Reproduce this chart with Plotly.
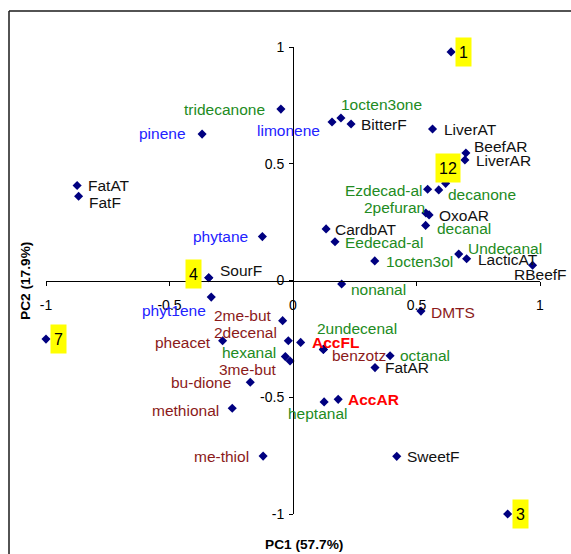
import plotly.graph_objects as go

# ---- data (PC1, PC2 loadings/scores) ----
names = ["tridecanone", "pinene", "limonene", "1octen3one", "BitterF", "LiverAT",
         "BeefAR", "LiverAR", "FatAT", "FatF", "Ezdecad-al", "decanone", "2pefuran",
         "OxoAR", "decanal", "CardbAT", "Eedecad-al", "1octen3ol", "Undecanal",
         "LacticAT", "RBeefF", "nonanal", "DMTS", "2undecenal", "AccFL", "benzotz",
         "2me-but", "2decenal", "pheacet", "hexanal", "3me-but", "bu-dione",
         "methional", "me-thiol", "octanal", "FatAR", "heptanal", "AccAR", "SweetF",
         "phytane", "phyt1ene", "SourF"]
pc1 = [-0.049, -0.368, 0.158, 0.194, 0.235, 0.565,
       0.700, 0.696, -0.874, -0.868, 0.545, 0.590, 0.538,
       0.551, 0.537, 0.134, 0.170, 0.331, 0.671,
       0.703, 0.970, 0.197, 0.518, 0.123, 0.031, 0.123,
       -0.042, -0.019, -0.285, -0.031, -0.012, -0.173,
       -0.246, -0.121, 0.393, 0.332, 0.126, 0.183, 0.420,
       -0.124, -0.331, -0.341]
pc2 = [0.734, 0.627, 0.679, 0.696, 0.670, 0.649,
       0.546, 0.516, 0.407, 0.361, 0.391, 0.388, 0.289,
       0.281, 0.236, 0.221, 0.166, 0.084, 0.113,
       0.093, 0.065, -0.015, -0.131, -0.295, -0.265, -0.295,
       -0.172, -0.258, -0.258, -0.326, -0.345, -0.436,
       -0.547, -0.752, -0.322, -0.373, -0.520, -0.509, -0.753,
       0.188, -0.071, 0.012]
groups = ["vol", "terp", "terp", "vol", "sens", "sens",
          "sens", "sens", "sens", "sens", "vol", "vol", "vol",
          "sens", "vol", "sens", "vol", "vol", "vol",
          "sens", "sens", "vol", "sulf", "vol", "acc", "sulf",
          "sulf", "sulf", "sulf", "vol", "sulf", "sulf",
          "sulf", "sulf", "vol", "sens", "vol", "acc", "sens",
          "terp", "terp", "sens"]

sample_ids = ["1", "3", "4", "7", "10", "12", "13"]
sample_pc1 = [0.640, 0.869, -0.341, -1.000, 1.001, 0.618, -0.186]
sample_pc2 = [0.979, -1.000, 0.012, -0.251, 0.236, 0.416, 1.002]

x_ticks = [-1, -0.5, 0, 0.5, 1]
y_ticks = [-1, -0.5, 0, 0.5, 1]
x_title = "PC1 (57.7%)"
y_title = "PC2 (17.9%)"

# ---- styles ----
FONT = "Arial, Liberation Sans, sans-serif"
group_color = {"vol": "#228B22", "terp": "#2222FF", "sens": "#111111",
               "sulf": "#8B1A1A", "acc": "#FF0000"}

# label placement: (anchor, dx px, dy px (down positive))
label_pos = {
    "tridecanone": ("r", -14, 0), "pinene": ("r", -14, -1), "limonene": ("r", -10, 9),
    "1octen3one": ("c", 41, -13), "BitterF": ("l", 8, 0), "LiverAT": ("l", 9, 1),
    "BeefAR": ("l", 6, -7), "LiverAR": ("l", 9, 0), "FatAT": ("l", 9, 0),
    "FatF": ("l", 8, 6), "Ezdecad-al": ("r", -3, 1), "decanone": ("l", 7, 5),
    "2pefuran": ("r", 1, -6), "OxoAR": ("l", 8, 1), "decanal": ("l", 9, 3),
    "CardbAT": ("l", 7, 1), "Eedecad-al": ("l", 8, 1), "1octen3ol": ("l", 9, 1),
    "Undecanal": ("l", 7, -6), "LacticAT": ("l", 9, 1), "RBeefF": ("c", 8, 9),
    "nonanal": ("l", 7, 5), "DMTS": ("l", 8, 1), "2undecenal": ("c", 34, -21),
    "AccFL": ("l", 9, 0), "benzotz": ("l", 7, 6), "2me-but": ("r", -9, -5),
    "2decenal": ("r", -9, -8), "pheacet": ("r", -10, 2), "hexanal": ("r", -7, -4),
    "3me-but": ("r", -11, 8), "bu-dione": ("r", -17, 0), "methional": ("r", -11, 2),
    "me-thiol": ("r", -12, 0), "octanal": ("l", 8, 0), "FatAR": ("l", 8, 0),
    "heptanal": ("c", -7, 12), "AccAR": ("l", 8, 0), "SweetF": ("l", 8, 0),
    "phytane": ("r", -12, 0), "phyt1ene": ("c", -37, 13), "SourF": ("l", 9, -7),
}
sample_pos = {"1": (12, 0), "3": (13, 0), "4": (-15, -4), "7": (12, 0),
              "10": (16, 0), "12": (2, -15), "13": (0, 0)}

# body margin is removed by a post script, so page pixels == figure pixels
W, H = 571, 554
PX_L, PX_R, PX_T, PX_B = 46, 540, 47, 514  # plot area in page pixels
ML, MT = PX_L, PX_T
MR, MB = W - PX_R, H - PX_B
pw, ph = W - ML - MR, H - MT - MB


def paper_x(px):
    return (px - PX_L) / pw


def paper_y(py):
    return (PX_B - py) / ph


fig = go.Figure()
fig.add_trace(go.Scatter(
    x=pc1 + sample_pc1, y=pc2 + sample_pc2, mode="markers",
    marker=dict(symbol="diamond", size=7, color="#000080"),
    cliponaxis=False, hoverinfo="skip", showlegend=False))

anns = []
anchor_map = {"l": "left", "r": "right", "c": "center"}
for n, xv, yv, g in zip(names, pc1, pc2, groups):
    a, dx, dy = label_pos[n]
    bold = g == "acc"
    anns.append(dict(
        x=xv, y=yv, xref="x", yref="y", showarrow=False,
        text=f"<b>{n}</b>" if bold else n,
        xanchor=anchor_map[a], yanchor="middle", xshift=dx, yshift=-dy,
        font=dict(family=FONT, size=15.5, color=group_color[g])))
for s, xv, yv in zip(sample_ids, sample_pc1, sample_pc2):
    dx, dy = sample_pos[s]
    anns.append(dict(
        x=xv, y=yv, xref="x", yref="y", showarrow=False, text=s,
        xanchor="center", yanchor="middle", xshift=dx, yshift=-dy,
        bgcolor="#FFFF00", borderpad=3, height=22,
        font=dict(family=FONT, size=16, color="#000000")))

# axis titles
anns.append(dict(x=paper_x(304), y=paper_y(544), xref="paper", yref="paper",
                 showarrow=False, text=f"<b>{x_title}</b>",
                 xanchor="center", yanchor="middle",
                 font=dict(family=FONT, size=13.7, color="#000000")))
anns.append(dict(x=paper_x(25), y=paper_y(281), xref="paper", yref="paper",
                 showarrow=False, text=f"<b>{y_title}</b>", textangle=-90,
                 xanchor="center", yanchor="middle",
                 font=dict(family=FONT, size=13.7, color="#000000")))

# outer chart-area frame (only its top and left edges are inside the picture)
frame_line = dict(color="#1a1a1a", width=1.5)
frame = [
    dict(type="line", xref="paper", yref="paper", x0=paper_x(9), x1=paper_x(W + 5),
         y0=paper_y(11), y1=paper_y(11), line=frame_line, layer="below"),
    dict(type="line", xref="paper", yref="paper", x0=paper_x(9), x1=paper_x(9),
         y0=paper_y(11), y1=paper_y(H + 5), line=frame_line, layer="below"),
]

axis_common = dict(showgrid=False, zeroline=False, showline=True, linecolor="#000000",
                   linewidth=1, ticks="outside", ticklen=4, tickcolor="#000000",
                   tickfont=dict(family=FONT, size=14, color="#000000"),
                   anchor="free", position=0.5)
fig.update_layout(
    width=W, height=H, margin=dict(l=ML, r=MR, t=MT, b=MB),
    paper_bgcolor="#FFFFFF", plot_bgcolor="#FFFFFF",
    xaxis=dict(range=[-1, 1], tickvals=x_ticks, ticktext=[f"{v:g}" for v in x_ticks],
               ticklabelstandoff=8, **axis_common),
    yaxis=dict(range=[-1, 1], tickvals=y_ticks, ticktext=[f"{v:g}" for v in y_ticks],
               ticklabelstandoff=2, **axis_common),
    annotations=anns, shapes=frame, showlegend=False)

fig.write_html("out.html", default_width=f"{W}px", default_height=f"{H}px",
               config={"displayModeBar": False},
               post_script="document.body.style.margin='0px';"
                           "document.body.style.overflow='hidden';")
